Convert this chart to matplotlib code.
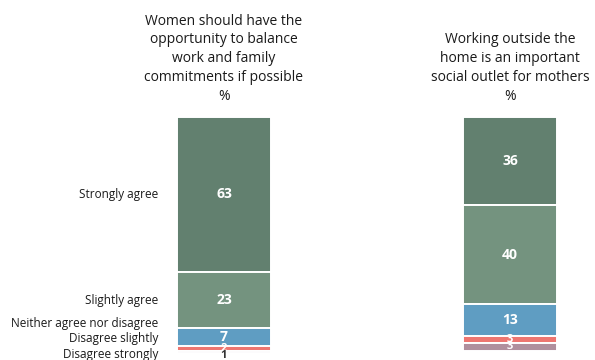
import matplotlib.pyplot as plt
from matplotlib.transforms import blended_transform_factory

plt.rcParams['font.family'] = ['Open Sans', 'DejaVu Sans']

# survey answers, top to bottom of each stacked bar
answers = ["Strongly agree", "Slightly agree", "Neither agree nor disagree",
           "Disagree slightly", "Disagree strongly"]
balance = [63, 23, 7, 2, 1]
outlet = [36, 40, 13, 3, 3]
titles = ["Women should have the\nopportunity to balance\nwork and family\ncommitments if possible\n%",
          "Working outside the\nhome is an important\nsocial outlet for mothers\n%"]

colors = ["#62806f", "#74937f", "#5f9dc2", "#ee7670", "#b08f9d"]

fig = plt.figure(figsize=(5.95, 3.6), dpi=100)
ax = fig.add_axes([0, 7 / 360, 1, 236 / 360])
ax.set_xlim(-224 / 286, 371 / 286)
ax.set_ylim(96, 0)
ax.axis("off")

width = 94 / 286
for xpos, vals in enumerate([balance, outlet]):
    bottom = 0
    for v, c in zip(vals, colors):
        ax.bar(xpos, v, width=width, bottom=bottom, color=c,
               edgecolor="white", linewidth=1.4)
        if v < 2:
            ax.text(xpos, bottom + v / 2 + 1.6, str(v), ha="center", va="center",
                    color="#333333", fontsize=8, fontweight="bold", clip_on=False)
        elif v < 5:
            ax.text(xpos, bottom + v / 2, str(v), ha="center", va="center",
                    color="white", fontsize=8, fontweight="bold")
        else:
            ax.text(xpos, bottom + v / 2, str(v), ha="center", va="center",
                    color="white", fontsize=10, fontweight="bold")
        bottom += v

# titles above each bar
tt = blended_transform_factory(ax.transData, fig.transFigure)
for xpos, t in enumerate(titles):
    ax.text(xpos, (360 - 104) / 360, t, transform=tt, ha="center", va="bottom",
            multialignment="center", fontsize=10, linespacing=1.35, color="#1a1a1a")

# answer labels next to the first bar, pushed apart where segments are thin
centers = []
bottom = 0
for v in balance:
    centers.append(bottom + v / 2)
    bottom += v
gap = 6.3
ypos = []
prev = None
for c in reversed(centers):
    y = c + 1.0 if prev is None else min(c, prev - gap)
    ypos.append(y)
    prev = y
ypos = ypos[::-1]

lt = blended_transform_factory(fig.transFigure, ax.transData)
for name, y in zip(answers, ypos):
    ax.text(158 / 595, y, name, transform=lt, ha="right", va="center",
            fontsize=8.5, color="#1a1a1a", clip_on=False)

fig.savefig("out.png", dpi=100)
